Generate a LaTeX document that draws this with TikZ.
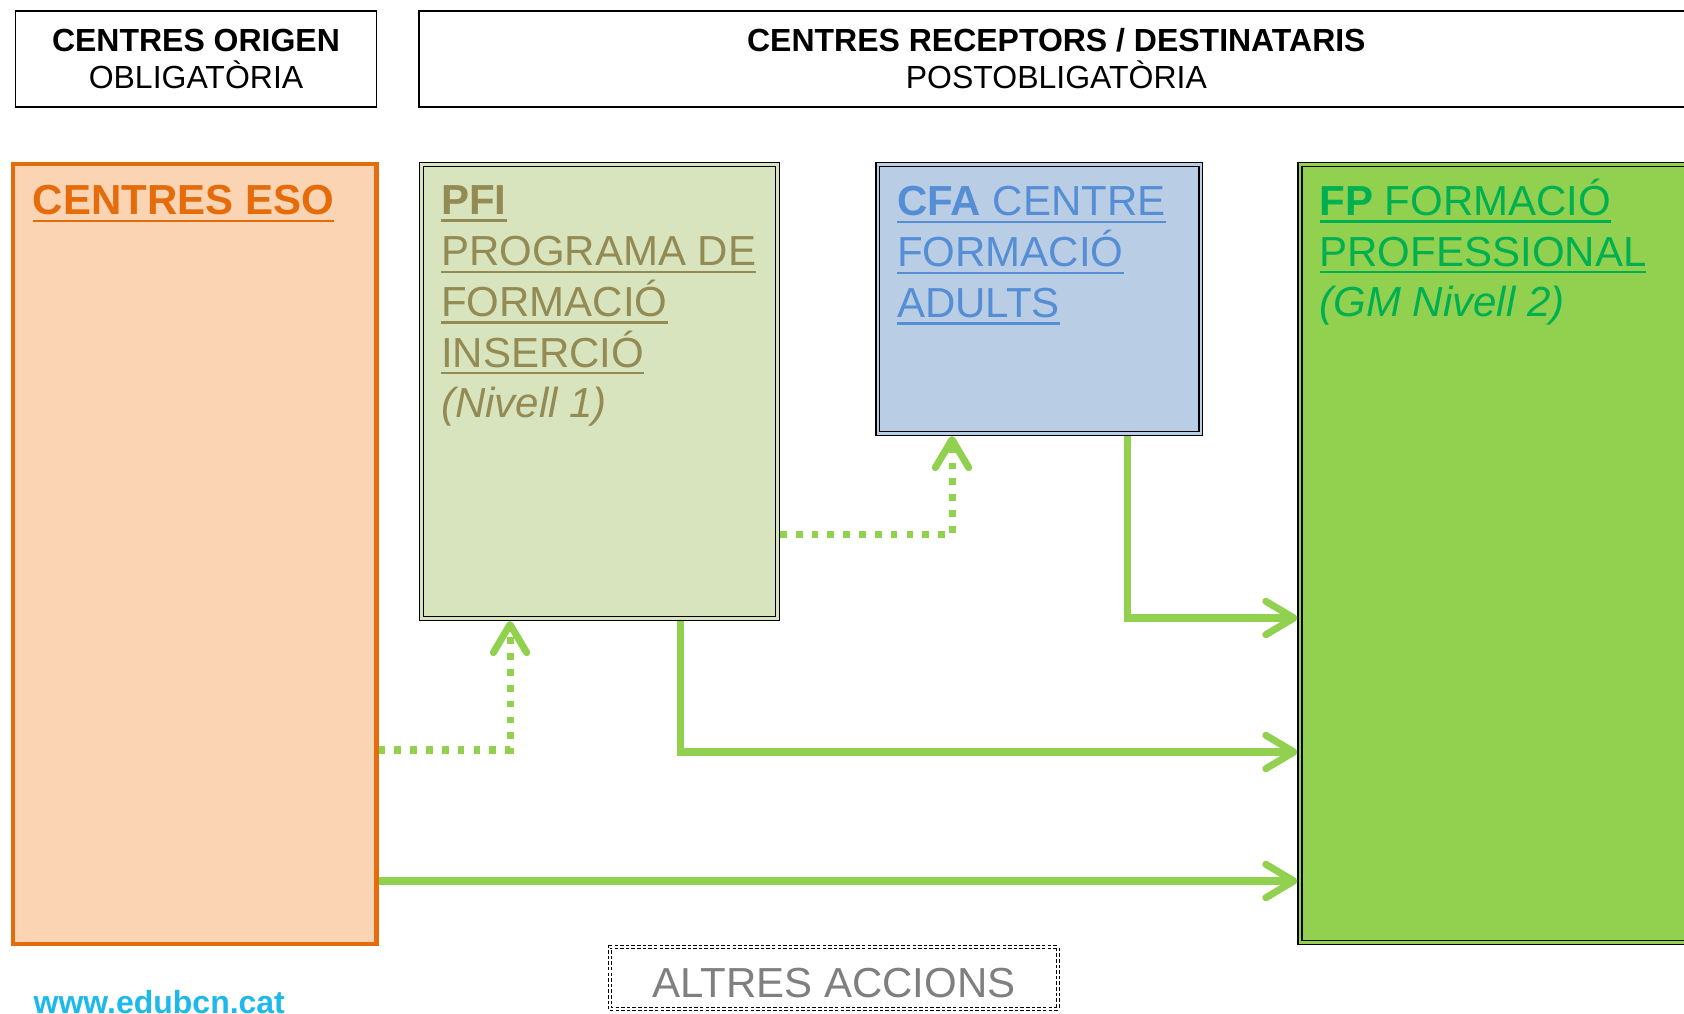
\documentclass[tikz,border=0pt]{standalone}
\usepackage{fontspec}
\setmainfont{Liberation Sans}
\usetikzlibrary{arrows.meta}

\definecolor{esoline}{HTML}{E46C0A}
\definecolor{esofill}{HTML}{FBD4B4}
\definecolor{pfifill}{HTML}{D7E4BD}
\definecolor{pfitext}{HTML}{948A54}
\definecolor{cfafill}{HTML}{B9CDE5}
\definecolor{cfatext}{HTML}{558ED5}
\definecolor{fpfill}{HTML}{92D050}
\definecolor{fptext}{HTML}{00B050}
\definecolor{flowgreen}{HTML}{92D050}
\definecolor{webblue}{HTML}{1DB9EA}
\definecolor{othergray}{HTML}{7F7F7F}

\newcommand{\linkline}[1]{\leavevmode\vtop{\hbox{#1}\kern1.3pt\hrule height 0.6pt}}

\begin{document}
\begin{tikzpicture}
        [
        >={Straight Barb[length = 8pt, width = 9.5pt, round]},
        header/.style = {
            draw, line width = 0.5pt,
            align = center,
            anchor = north west,
            minimum height = 0.962cm,
            font = \fontsize{9.1}{10.5}\selectfont,
        },
        centre/.style = {
            draw, line width = 0.42pt,
            double distance = 0.7pt,
            outer sep = 0.77pt,
            anchor = north west,
        },
        boxtext/.style = {
            anchor = base west, align = left, inner sep = 0pt,
            xshift = 0.215cm,
            font = \fontsize{11.95}{14.45}\selectfont,
        },
        flow/.style = {
            ->, draw = flowgreen, line width = 2pt,
        },
        maybe/.style = {
            flow, dash pattern = on 1.9pt off 2.6pt,
        },
        ]
        \useasboundingbox (0,0) rectangle (16.84,-10.14);

        % Capcaleres
        \node[header, minimum width = 3.612cm] (origen) at (0.145,-0.10) {\textbf{CENTRES ORIGEN} \\ OBLIGATÒRIA};
        \node[header, minimum width = 12.75cm] (receptors) at ([xshift = 0.405cm]origen.north east) {\textbf{CENTRES RECEPTORS / DESTINATARIS} \\ POSTOBLIGATÒRIA};

        % Centres
        \node[draw = esoline, fill = esofill, line width = 1.28pt, anchor = north west,
            minimum width = 3.634cm, minimum height = 7.795cm] (eso) at (0.107,-1.62) {};
        \node[centre, fill = pfifill, double = pfifill, minimum width = 3.556cm, minimum height = 4.536cm] (pfi) at ([xshift = 0.404cm]eso.north east) {};
        \node[centre, fill = cfafill, double = cfafill, minimum width = 3.23cm, minimum height = 2.686cm] (cfa) at ([xshift = 0.95cm]pfi.north east) {};
        \node[centre, fill = fpfill, double = fpfill, minimum width = 4.2cm, minimum height = 7.776cm] (fp) at ([xshift = 0.94cm]cfa.north east) {};

        % Textos (la base es la darrera linia)
        \node[boxtext, text = esoline, yshift = -0.53cm] (eso_title) at (eso.north west) {\linkline{\textbf{CENTRES ESO}}};
        \node[boxtext, text = pfitext, yshift = -2.56cm] (pfi_title) at (pfi.north west)
            {\linkline{\textbf{PFI}} \\ \linkline{PROGRAMA DE} \\ \linkline{FORMACIÓ} \\ \linkline{INSERCIÓ} \\ \textit{(Nivell 1)}};
        \node[boxtext, text = cfatext, yshift = -1.555cm] (cfa_title) at (cfa.north west)
            {\linkline{\textbf{CFA} CENTRE} \\ \linkline{FORMACIÓ} \\ \linkline{ADULTS}};
        \node[boxtext, text = fptext, yshift = -1.55cm] (fp_title) at (fp.north west)
            {\linkline{\textbf{FP} FORMACIÓ} \\ \linkline{PROFESSIONAL} \\ \textit{(GM Nivell 2)}};

        \node[draw, line width = 0.3pt, double, double distance = 0.5pt, dash pattern = on 1pt off 0.6pt,
            outer sep = 0.55pt, anchor = north west, minimum width = 4.48cm, minimum height = 0.61cm,
            text = othergray, font = \fontsize{11.95}{14.45}\selectfont,
            text height = 0.39cm, text depth = 0pt] (altres) at (6.08,-9.45) {ALTRES ACCIONS};

        \node[anchor = base west, inner sep = 0pt, text = webblue,
            font = \fontsize{9.1}{10.5}\selectfont\bfseries] (web) at (0.33,-10.13) {www.edubcn.cat};

        % Itineraris
        \draw[flow] ([yshift = -3.27cm]eso.east) -- ([yshift = -3.27cm]eso.east -| fp.west);
        \draw[flow] ([xshift = 0.805cm]pfi.south) |- ([yshift = -1.985cm]fp.west);
        \draw[flow] ([xshift = 0.878cm]cfa.south) |- ([yshift = -0.645cm]fp.west);
        \draw[maybe] ([yshift = -1.96cm]eso.east) -| ([xshift = -0.895cm]pfi.south);
        \draw[maybe] ([yshift = -1.43cm]pfi.east) -| ([xshift = -0.872cm]cfa.south);
\end{tikzpicture}
\end{document}
